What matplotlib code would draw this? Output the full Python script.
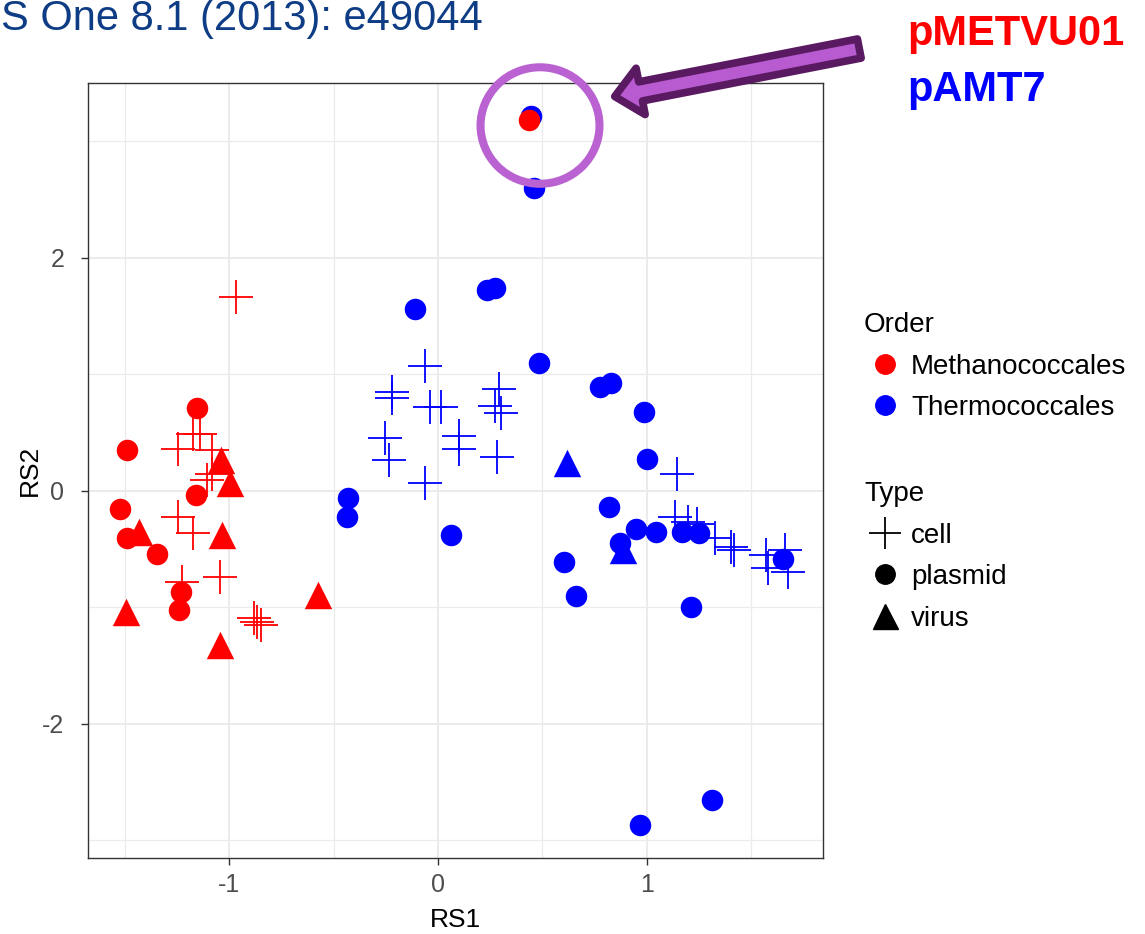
import matplotlib
matplotlib.use("Agg")
import matplotlib.pyplot as plt
from matplotlib.lines import Line2D
from matplotlib.patches import Ellipse, FancyArrowPatch

plt.rcParams['font.family'] = ['Liberation Sans', 'DejaVu Sans']
plt.rcParams['axes.unicode_minus'] = False

# --- data (RS1, RS2) ---
# Methanococcales (red)
meth_cell_x = [-0.969, -1.244, -1.175, -1.140, -1.084, -1.084, -1.105, -1.244, -1.175,
               -1.228, -1.045, -0.880, -0.866, -0.850]
meth_cell_y = [1.66, 0.355, 0.484, 0.484, 0.349, 0.143, 0.092, -0.223, -0.366,
               -0.781, -0.744, -1.095, -1.130, -1.153]
meth_plasmid_x = [-1.153, -1.489, -1.161, -1.525, -1.490, -1.345, -1.233, -1.241, 0.436]
meth_plasmid_y = [0.707, 0.349, -0.037, -0.160, -0.409, -0.546, -0.867, -1.024, 3.18]
meth_virus_x = [-1.04, -0.997, -1.434, -1.036, -1.493, -1.043, -0.575]
meth_virus_y = [0.26, 0.064, -0.352, -0.38, -1.04, -1.325, -0.895]

# Thermococcales (blue)
therm_cell_x = [-0.062, -0.222, -0.222, -0.038, 0.013, -0.254, -0.233, 0.102, 0.102,
                -0.062, 0.281, 0.292, 0.273, 0.300, 1.144, 1.136, 1.196, 1.239,
                1.327, 1.404, 1.418, 1.570, 1.583, 1.663, 1.679]
therm_cell_y = [1.070, 0.850, 0.793, 0.721, 0.721, 0.450, 0.264, 0.470, 0.358,
                0.063, 0.292, 0.870, 0.727, 0.670, 0.143, -0.227, -0.270, -0.290,
                -0.409, -0.481, -0.509, -0.552, -0.666, -0.509, -0.695]
therm_plasmid_x = [0.446, 0.460, 0.233, 0.273, -0.110, 0.485, 0.776, 0.827, 0.987,
                   1.003, -0.430, -0.437, 0.062, 0.821, 0.949, 1.045, 1.168, 1.252,
                   0.872, 0.605, 0.660, 1.211, 1.652, 0.968, 1.313]
therm_plasmid_y = [3.22, 2.598, 1.723, 1.737, 1.557, 1.094, 0.893, 0.922, 0.673,
                   0.270, -0.065, -0.223, -0.381, -0.143, -0.331, -0.352, -0.352, -0.366,
                   -0.452, -0.609, -0.901, -0.996, -0.589, -2.870, -2.655]
therm_virus_x = [0.617, 0.888]
therm_virus_y = [0.235, -0.509]

order_labels = ['Methanococcales', 'Thermococcales']
type_labels = ['cell', 'plasmid', 'virus']

RED = '#FF0000'
BLUE = '#0000FF'

fig = plt.figure(figsize=(11.45, 9.34), dpi=100)
ax = fig.add_axes([88/1145, 1-858/934, (823-88)/1145, (858-83)/934])

ax.set_xlim(-1.677, 1.845)
ax.set_ylim(-3.153, 3.50)

# grid like theme_bw
ax.set_xticks([-1, 0, 1])
ax.set_yticks([-2, 0, 2])
ax.set_xticks([-1.5, -0.5, 0.5, 1.5], minor=True)
ax.set_yticks([-3, -1, 1, 3], minor=True)
ax.grid(which='major', color='#EBEBEB', lw=1.4, zorder=0)
ax.grid(which='minor', color='#EBEBEB', lw=0.9, zorder=0)
ax.set_axisbelow(True)
ax.tick_params(which='minor', length=0)
ax.tick_params(which='major', length=5, width=1, color='#333333',
               labelsize=18, labelcolor='#4D4D4D', pad=6)
ax.tick_params(axis='y', which='major', pad=12)
for s in ax.spines.values():
    s.set_color('#333333')
    s.set_linewidth(1.0)

ax.set_xlabel('RS1', fontsize=19, labelpad=8)
ax.set_ylabel('RS2', fontsize=19)
ax.yaxis.set_label_coords((42-88)/735, 0.5)

s_circ = 240
s_cross = 580
s_tri = 390

# blue first, red on top
ax.scatter(therm_cell_x, therm_cell_y, marker='+', s=s_cross, c=BLUE, linewidths=1.3, zorder=3)
ax.scatter(therm_plasmid_x, therm_plasmid_y, marker='o', s=s_circ, c=BLUE, linewidths=0, zorder=3)
ax.scatter(therm_virus_x, therm_virus_y, marker='^', s=s_tri, c=BLUE, linewidths=0, zorder=3)
ax.scatter(meth_cell_x, meth_cell_y, marker='+', s=s_cross, c=RED, linewidths=1.3, zorder=3)
ax.scatter(meth_plasmid_x, meth_plasmid_y, marker='o', s=s_circ, c=RED, linewidths=0, zorder=4)
ax.scatter(meth_virus_x, meth_virus_y, marker='^', s=s_tri, c=RED, linewidths=0, zorder=3)

# highlight ring around the top pair
ring = Ellipse((0.489, 3.135), 0.57, 1.0, fill=False, ec='#BB62D2', lw=5.8,
               clip_on=False, zorder=5)
ax.add_patch(ring)

# arrow from the labels to the ring
arr = FancyArrowPatch((862/1145, 1-48/934), (612/1145, 1-97/934),
                      transform=fig.transFigure,
                      arrowstyle='simple,head_length=1.9,head_width=3.4,tail_width=1.4',
                      mutation_scale=10, fc='#B85BD0', ec='#5A1A62', lw=5.5,
                      joinstyle='round', zorder=6)
fig.patches.append(arr)

fig.text(907/1145, 1-45/934, 'pMETVU01', color=RED, fontsize=30, fontweight='bold',
         ha='left', va='baseline')
fig.text(907/1145, 1-101/934, 'pAMT7', color=BLUE, fontsize=30, fontweight='bold',
         ha='left', va='baseline')
fig.text(1/1145, 1-30/934, 'S One 8.1 (2013): e49044', color='#0E3C85', fontsize=30,
         ha='left', va='baseline')

# legends
order_handles = [Line2D([], [], ls='', marker='o', ms=14, mfc=RED, mec=RED),
                 Line2D([], [], ls='', marker='o', ms=14, mfc=BLUE, mec=BLUE)]
type_handles = [Line2D([], [], ls='', marker='+', ms=23, mew=1.3, color='black'),
                Line2D([], [], ls='', marker='o', ms=14, color='black'),
                Line2D([], [], ls='', marker='^', ms=18, color='black')]

leg1 = fig.legend(order_handles, order_labels, title='Order', loc='upper left',
                  bbox_to_anchor=(864/1145, 1-312/934), frameon=False, fontsize=20,
                  title_fontsize=20, alignment='left', borderpad=0, borderaxespad=0,
                  handlelength=1.5, handletextpad=0.2, labelspacing=0.56)
leg2 = fig.legend(type_handles, type_labels, title='Type', loc='upper left',
                  bbox_to_anchor=(864/1145, 1-481/934), frameon=False, fontsize=20,
                  title_fontsize=20, alignment='left', borderpad=0, borderaxespad=0,
                  handlelength=1.5, handletextpad=0.2, labelspacing=0.56)

fig.savefig('out.png', dpi=100)
